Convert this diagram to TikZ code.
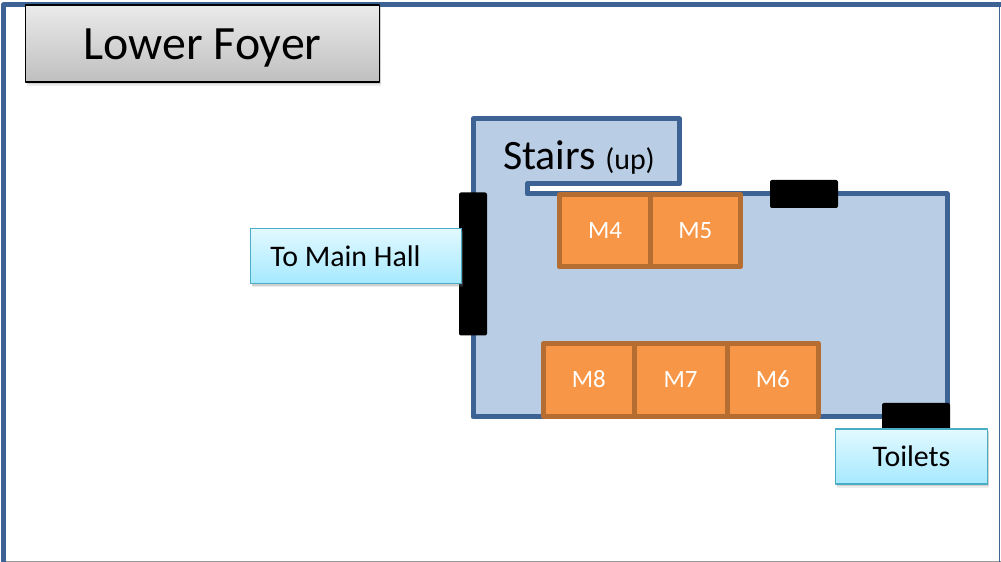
\documentclass[tikz,border=0pt]{standalone}
\usepackage{fontspec}
\setmainfont{Carlito}
\usetikzlibrary{positioning,shadows}
\definecolor{wallblue}{HTML}{3D6394}
\definecolor{floorblue}{HTML}{B9CDE5}
\definecolor{standfill}{HTML}{F79646}
\definecolor{standline}{HTML}{B66D31}
\definecolor{signline}{HTML}{4BACC6}
\definecolor{signtop}{HTML}{E2F9FF}
\definecolor{signbottom}{HTML}{A6E9FF}
\tikzset{
  wall/.style={draw=wallblue,line width=5bp,line join=round},
  door/.style={draw=none,fill=black,rounded corners=2bp,inner sep=0pt},
  stand/.style={draw=standline,line width=5bp,line join=round,fill=standfill,text=white,inner sep=0pt,text height=16bp,text depth=0pt,font=\fontsize{25}{28}\selectfont},
  softshadow/.style={drop shadow={shadow xshift=1.5bp,shadow yshift=-4bp,opacity=.15},drop shadow={shadow xshift=1bp,shadow yshift=-2.5bp,opacity=.25}},
  sign/.style={draw=signline,line width=1.5bp,top color=signtop,bottom color=signbottom,inner sep=0pt,softshadow},
}
\begin{document}
\begin{tikzpicture}[>=latex,line join=bevel]
\useasboundingbox (0bp,0bp) rectangle (1001bp,562bp);
%% frame and floor
\fill[white] (0bp,0bp) rectangle (1001bp,562bp);
\draw[draw=black!40,line width=1bp] (6bp,.5bp) -- (1001bp,.5bp);
\draw[draw=wallblue,line width=1.5bp] (999.7bp,0bp) -- (999.7bp,557bp);
\draw[wall] (3.5bp,0bp) -- (3.5bp,557bp) -- (1001bp,557bp);
\draw[wall,fill=floorblue] (473bp,145bp) -- (947bp,145bp) -- (947bp,368bp) -- (527bp,368bp) -- (527bp,378bp) -- (679.5bp,378bp) -- (679.5bp,443bp) -- (473bp,443bp) -- cycle;
\node (stairs) at (579bp,404bp) [inner sep=0pt] {\fontsize{42}{46}\selectfont Stairs \fontsize{30}{34}\selectfont (up)};
%% doors
\node (hallDoor) at (473bp,298bp) [door,minimum width=28bp,minimum height=143bp] {};
\node (stairDoor) at (804bp,368bp) [door,minimum width=68bp,minimum height=28bp] {};
\node (toiletDoor) at (916bp,145bp) [door,minimum width=68bp,minimum height=28bp] {};
%% stands
\node (m4) at (605bp,331bp) [stand,minimum width=91bp,minimum height=72bp] {M4};
\node (m5) at (695.25bp,331bp) [stand,minimum width=89.5bp,minimum height=72bp] {M5};
\node (m8) at (588.75bp,182bp) [stand,minimum width=90.5bp,minimum height=73bp] {M8};
\node (m7) at (680.5bp,182bp) [stand,minimum width=93bp,minimum height=73bp] {M7};
\node (m6) at (772.75bp,182bp) [stand,minimum width=91.5bp,minimum height=73bp] {M6};
%% signs
\node (title) at (202.5bp,518.5bp) [draw=black,line width=1.5bp,top color=black!8,bottom color=black!25,inner sep=0pt,minimum width=354bp,minimum height=77bp,softshadow,text height=33bp,text depth=0pt,font=\fontsize{48}{52}\selectfont] {Lower Foyer};
\node (hallSign) at (356bp,306bp) [sign,minimum width=211bp,minimum height=55bp] {};
\node (hallText) at (345.5bp,306bp) [inner sep=0pt,font=\fontsize{30}{33}\selectfont] {To Main Hall};
\node (toiletSign) at (911.5bp,105.5bp) [sign,minimum width=152bp,minimum height=55bp,font=\fontsize{30}{33}\selectfont] {Toilets};
\end{tikzpicture}
\end{document}
